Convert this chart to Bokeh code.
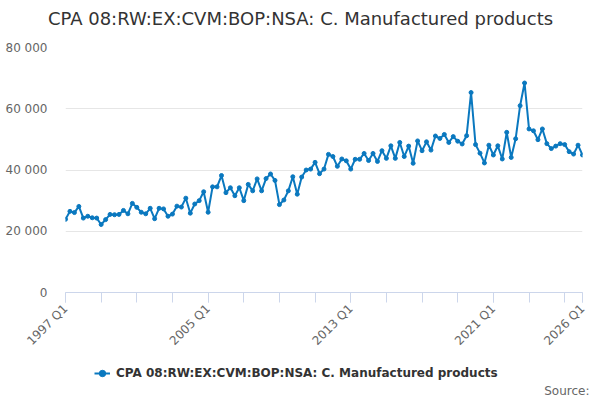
from math import pi

from bokeh.embed import file_html
from bokeh.layouts import column
from bokeh.models import (ColumnDataSource, FixedTicker, Label, Legend,
                          LegendItem, Range1d)
from bokeh.plotting import figure
from bokeh.resources import INLINE

# quarterly series, 1997 Q1 .. 2026 Q1
quarters = [f"{y} Q{q}" for y in range(1997, 2027) for q in range(1, 5)][:117]

values = [
    23900, 26500, 26100, 28100, 24300, 24900, 24400, 24300,
    22200, 23800, 25500, 25400, 25500, 26800, 25700, 29100,
    27800, 26200, 25700, 27500, 24100, 27500, 27300, 24900,
    25600, 28200, 27900, 30800, 25900, 28900, 30000, 32900,
    26200, 34500, 34500, 38200, 32600, 34200, 31600, 34200,
    30000, 35300, 33200, 37100, 33200, 37200, 38700, 36600,
    28700, 30200, 33200, 37800, 32100, 37700, 40000, 40300,
    42500, 38800, 40300, 45100, 44400, 41200, 43600, 43000,
    40300, 43500, 43500, 45400, 43100, 45400, 42800, 46300,
    43800, 47900, 43800, 49000, 44400, 47800, 42200, 49500,
    46300, 49200, 46500, 51100, 50300, 51600, 49000, 50900,
    49400, 48500, 51200, 65300, 48300, 45500, 42300, 48100,
    44900, 47900, 43600, 52300, 44100, 50200, 61000, 68400,
    53400, 52800, 49900, 53400, 48600, 47000, 47800, 48600,
    48300, 46000, 45200, 48100, 44900,
]

label_idx = [0, 32, 64, 96, 116]
tick_idx = list(range(0, 116, 8)) + [116]
y_ticks = [0, 20000, 40000, 60000, 80000]
y_labels = ["0", "20 000", "40 000", "60 000", "80 000"]

series_name = "CPA 08:RW:EX:CVM:BOP:NSA: C. Manufactured products"
LINE_COLOR = "#0a78bf"
FONT = "DejaVu Sans"


def strip(height):
    """blank full-width figure used for the title and the legend rows"""
    f = figure(width=600, height=height, output_backend="svg",
               toolbar_location=None, x_range=Range1d(0, 1),
               y_range=Range1d(0, 1), x_axis_type=None, y_axis_type=None,
               min_border=0, frame_align=False)
    f.outline_line_color = None
    f.grid.visible = False
    return f


# title row
head = strip(36)
head.add_layout(Label(x=300, y=18, x_units="screen", y_units="screen",
                      text=series_name, text_align="center",
                      text_baseline="middle", text_font=FONT,
                      text_font_size="18px", text_color="#333333"))

# main chart
source = ColumnDataSource(data=dict(idx=list(range(len(values))), value=values,
                                    quarter=quarters))

p = figure(width=600, height=319, output_backend="svg", toolbar_location=None,
           x_range=Range1d(0, len(values) - 1), y_range=Range1d(0, 80000),
           min_border_left=65, min_border_right=18, min_border_top=11,
           min_border_bottom=58)

p.outline_line_color = None
p.xgrid.visible = False
p.ygrid.grid_line_color = "#e6e6e6"

# x axis: ticks every 2 years, labels every 8 years + last quarter
p.xaxis.ticker = FixedTicker(ticks=label_idx, minor_ticks=tick_idx)
p.xaxis.major_label_overrides = {i: quarters[i] for i in label_idx}
p.xaxis.major_label_orientation = pi / 4
p.xaxis.axis_line_color = "#ccd6eb"
p.xaxis.major_tick_line_color = "#ccd6eb"
p.xaxis.minor_tick_line_color = "#ccd6eb"
p.xaxis.major_tick_in = 0
p.xaxis.major_tick_out = 10
p.xaxis.minor_tick_in = 0
p.xaxis.minor_tick_out = 10
p.xaxis.major_label_standoff = 4

# y axis: labels only
p.yaxis.ticker = FixedTicker(ticks=y_ticks)
p.yaxis.major_label_overrides = dict(zip(y_ticks, y_labels))
p.yaxis.axis_line_color = None
p.yaxis.major_tick_line_color = None
p.yaxis.minor_tick_line_color = None
p.yaxis.major_label_standoff = 12

p.axis.major_label_text_font = FONT
p.axis.major_label_text_font_size = "12px"
p.axis.major_label_text_color = "#666666"

p.line(x="idx", y="value", source=source, line_color=LINE_COLOR, line_width=2)
p.scatter(x="idx", y="value", source=source, size=4,
          fill_color=LINE_COLOR, line_color=LINE_COLOR)

# legend + source row (key renderers share the series, which lies off-range
# here, so only the legend glyph shows)
foot = strip(45)
key_line = foot.line(x="idx", y="value", source=source, line_color=LINE_COLOR,
                     line_width=2)
key_dot = foot.scatter(x="idx", y="value", source=source, size=4,
                       fill_color=LINE_COLOR, line_color=LINE_COLOR)

legend = Legend(items=[LegendItem(label=series_name,
                                  renderers=[key_line, key_dot])],
                location=(94, 17), padding=0, margin=0, glyph_width=16,
                label_standoff=6, border_line_color=None,
                background_fill_alpha=0)
legend.label_text_font = FONT
legend.label_text_font_size = "12px"
legend.label_text_font_style = "bold"
legend.label_text_color = "#333333"
foot.add_layout(legend, "center")

foot.add_layout(Label(x=589, y=10, x_units="screen", y_units="screen",
                      text="Source:", text_align="right",
                      text_baseline="middle", text_font=FONT,
                      text_font_size="12px", text_color="#666666"))

open("out.html", "w").write(file_html(column(head, p, foot, spacing=0),
                                      INLINE))
